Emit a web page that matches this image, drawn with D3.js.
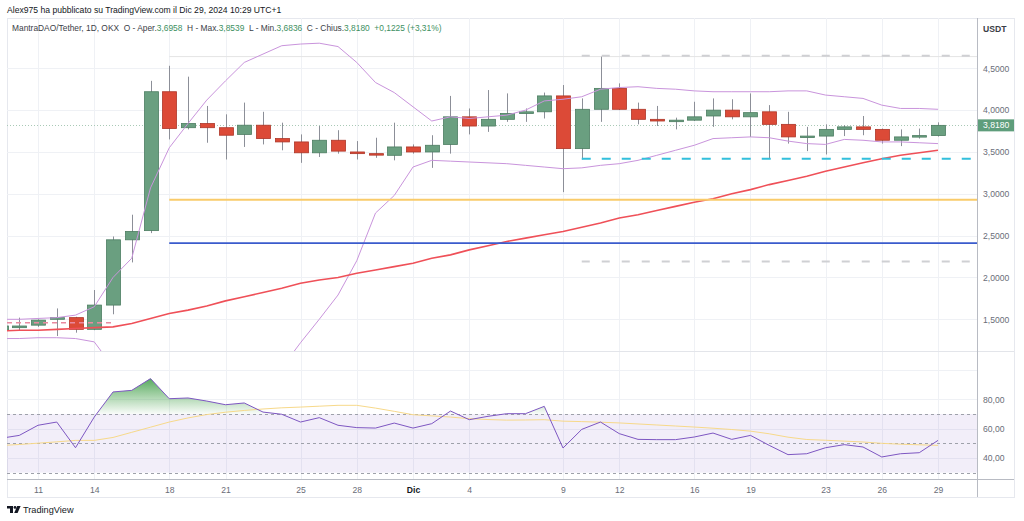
<!DOCTYPE html>
<html>
<head>
<meta charset="utf-8">
<script src="https://cdn.jsdelivr.net/npm/d3@7/dist/d3.min.js"></script>
<style>
  body { margin: 0; background: #fff; }
  svg { display: block; font-family: "Liberation Sans", Arial, sans-serif; }
</style>
</head>
<body>
<svg id="chart"></svg>
<script>
// daily candles, MantraDAO/Tether 1D (OKX)
const days = [
  "2024-11-09","2024-11-10","2024-11-11","2024-11-12","2024-11-13","2024-11-14","2024-11-15","2024-11-16",
  "2024-11-17","2024-11-18","2024-11-19","2024-11-20","2024-11-21","2024-11-22","2024-11-23","2024-11-24",
  "2024-11-25","2024-11-26","2024-11-27","2024-11-28","2024-11-29","2024-11-30",
  "2024-12-01","2024-12-02","2024-12-03","2024-12-04","2024-12-05","2024-12-06","2024-12-07","2024-12-08",
  "2024-12-09","2024-12-10","2024-12-11","2024-12-12","2024-12-13","2024-12-14","2024-12-15","2024-12-16",
  "2024-12-17","2024-12-18","2024-12-19","2024-12-20","2024-12-21","2024-12-22","2024-12-23","2024-12-24",
  "2024-12-25","2024-12-26","2024-12-27","2024-12-28","2024-12-29"
];
const open = [1.37,1.40,1.43,1.50,1.52,1.38,1.67,2.45,2.56,4.22,3.79,3.84,3.79,3.71,3.82,3.66,3.62,3.49,3.64,3.50,3.48,3.46,
  3.56,3.50,3.59,3.92,3.81,3.89,3.96,3.98,4.17,3.54,4.01,4.26,4.01,3.89,3.87,3.88,3.93,4.00,3.92,3.98,3.83,3.68,3.69,3.77,3.80,3.77,3.64,3.68,3.6958];
const high = [1.45,1.52,1.50,1.63,1.53,1.85,2.49,2.75,4.35,4.53,4.40,4.05,3.95,4.09,3.98,3.85,3.71,3.81,3.76,3.63,3.67,3.85,
  3.59,3.70,4.17,4.02,4.24,4.20,4.02,4.21,4.30,4.14,4.64,4.32,4.09,4.05,3.91,4.10,4.14,4.13,4.20,4.06,3.98,3.80,3.83,3.82,3.93,3.78,3.77,3.78,3.8539];
const low = [1.35,1.36,1.41,1.30,1.34,1.37,1.56,2.18,2.53,3.65,3.77,3.61,3.41,3.56,3.59,3.52,3.37,3.44,3.48,3.41,3.43,3.40,
  3.48,3.31,3.48,3.71,3.74,3.86,3.86,3.90,3.02,3.41,3.86,4.00,3.83,3.81,3.77,3.87,3.80,3.89,3.68,3.42,3.60,3.51,3.47,3.69,3.70,3.60,3.57,3.66,3.6836];
const close = [1.42,1.42,1.49,1.52,1.38,1.67,2.45,2.55,4.22,3.78,3.84,3.79,3.70,3.82,3.66,3.62,3.49,3.64,3.51,3.48,3.47,3.56,
  3.50,3.58,3.92,3.81,3.89,3.96,3.98,4.17,3.54,4.01,4.26,4.01,3.89,3.87,3.88,3.92,4.00,3.92,3.97,3.83,3.68,3.69,3.77,3.80,3.77,3.64,3.68,3.6955,3.818];

// bollinger bands (upper / lower) and the slow moving average
const upperBand = [1.50,1.50,1.51,1.52,1.55,1.65,2.00,2.23,3.07,3.55,3.84,4.12,4.35,4.57,4.67,4.77,4.79,4.80,4.76,4.57,4.33,4.21,
  4.04,3.87,3.92,3.90,3.92,3.94,4.00,4.11,4.13,4.16,4.25,4.27,4.28,4.26,4.25,4.23,4.22,4.22,4.22,4.22,4.23,4.23,4.18,4.16,4.14,4.06,4.02,4.02,4.01];
const lowerBand = [1.27,1.27,1.28,1.28,1.27,1.23,0.93,0.60,0.10,-0.10,-0.15,-0.10,0.00,0.20,0.50,0.92,1.22,1.50,1.79,2.20,2.77,2.98,
  3.32,3.40,3.39,3.38,3.37,3.36,3.34,3.32,3.30,3.31,3.34,3.36,3.40,3.46,3.52,3.58,3.66,3.67,3.68,3.67,3.63,3.60,3.59,3.65,3.64,3.62,3.62,3.61,3.60];
const slowMA = [1.36,1.37,1.37,1.38,1.39,1.40,1.41,1.45,1.51,1.57,1.61,1.66,1.72,1.77,1.82,1.87,1.93,1.97,2.00,2.05,2.09,2.13,
  2.17,2.23,2.27,2.33,2.38,2.43,2.47,2.51,2.55,2.60,2.65,2.71,2.75,2.80,2.85,2.90,2.94,3.00,3.05,3.11,3.16,3.21,3.27,3.32,3.37,3.42,3.46,3.49,3.52];

// RSI and its moving average
const rsi = [53.4,55.4,62.3,64.5,47.0,67.9,85.0,86.1,94.1,80.4,80.9,78.8,76.3,77.5,71.3,69.8,64.5,67.5,62.3,60.7,60.4,63.8,
  60.4,63.4,72.0,66.1,68.4,70.2,70.2,75.2,46.8,59.5,64.5,56.6,52.7,52.5,52.5,54.3,57.0,52.7,55.4,48.6,42.3,42.9,47.0,49.1,47.5,40.7,42.9,43.6,52.0];
const rsiMA = [48.5,49.2,50.1,51.0,52.0,52.0,54.0,57.5,61.0,64.5,67.3,69.6,71.2,72.4,73.4,74.2,74.7,75.3,75.9,75.9,74.0,71.8,
  69.5,68.7,67.9,66.8,66.2,65.8,65.9,66.1,65.1,64.8,64.4,63.9,63.2,62.5,61.8,61.1,60.3,59.4,58.3,56.5,54.2,52.6,52.1,51.5,50.9,50.0,49.4,49.0,48.6];

// axis ticks
const tickDays = ["2024-11-11","2024-11-14","2024-11-18","2024-11-21","2024-11-25","2024-11-28","2024-12-01",
  "2024-12-04","2024-12-09","2024-12-12","2024-12-16","2024-12-19","2024-12-23","2024-12-26","2024-12-29"];
const priceTicks = [1.5, 2.0, 2.5, 3.0, 3.5, 4.0, 4.5];
const rsiTicks = [80, 60, 40];
const rsiGrid = [100, 80, 60, 40];

// drawn levels: yellow / blue from Nov 18, dashed ones from Dec 10
const rangeTop = 4.64;
const yellowLevel = 2.93;
const blueLevel = 2.41;
const dashedGrey = [4.65, 2.19];
const dashedCyan = 3.42;
const dashedPink = 1.46;

const W = 1024, H = 521;
const left = 7, plotRight = 977, right = 1014;
const mainTop = 18, mainBottom = 351, rsiTop = 352, rsiBottom = 479, frameBottom = 497;

const parse = d3.utcParse('%Y-%m-%d');
const data = days.map((d, i) => ({
  date: parse(d), o: open[i], h: high[i], l: low[i], c: close[i],
  up: upperBand[i], lo: lowerBand[i], ma: slowMA[i], rsi: rsi[i], rsiMa: rsiMA[i]
}));

const it = d3.formatLocale({ decimal: ',', thousands: '.', grouping: [3], currency: ['', ''] });
const fmt4 = it.format('.4f');
const fmt2 = it.format('.2f');

const x = d3.scaleUtc().domain([parse('2024-11-11'), parse('2024-12-29')]).range([38, 938]);
const y = d3.scaleLinear().domain([1.5, 4.5]).range([319.3, 68.3]);
const yR = d3.scaleLinear().domain([40, 80]).range([458, 399.3]);

const svg = d3.select('#chart').attr('width', W).attr('height', H);
const defs = svg.append('defs');

defs.append('clipPath').attr('id', 'clip-main').append('rect')
  .attr('x', left).attr('y', mainTop).attr('width', plotRight - left).attr('height', mainBottom - mainTop);
defs.append('clipPath').attr('id', 'clip-rsi').append('rect')
  .attr('x', left).attr('y', rsiTop).attr('width', plotRight - left).attr('height', rsiBottom - rsiTop);
defs.append('clipPath').attr('id', 'clip-ob').append('rect')
  .attr('x', left).attr('y', rsiTop).attr('width', plotRight - left).attr('height', yR(70) - rsiTop);

const grad = defs.append('linearGradient').attr('id', 'ob-grad')
  .attr('gradientUnits', 'userSpaceOnUse')
  .attr('x1', 0).attr('x2', 0).attr('y1', yR(95)).attr('y2', yR(70));
grad.append('stop').attr('offset', 0).attr('stop-color', '#3f9e48').attr('stop-opacity', 0.9);
grad.append('stop').attr('offset', 1).attr('stop-color', '#43a047').attr('stop-opacity', 0.03);

// frame
svg.append('rect')
  .attr('x', left + 0.5).attr('y', mainTop + 0.5)
  .attr('width', right - left).attr('height', frameBottom - mainTop)
  .attr('fill', 'none').attr('stroke', '#e6e8ee');

// grid
const grid = svg.append('g').attr('stroke', '#eff1f5').attr('stroke-width', 1);
grid.selectAll('.vgrid').data(tickDays).join('line')
  .attr('x1', d => Math.round(x(parse(d))) + 0.5).attr('x2', d => Math.round(x(parse(d))) + 0.5)
  .attr('y1', mainTop).attr('y2', rsiBottom);
grid.selectAll('.pgrid').data(priceTicks).join('line')
  .attr('x1', left).attr('x2', plotRight)
  .attr('y1', d => Math.round(y(d)) + 0.5).attr('y2', d => Math.round(y(d)) + 0.5);
grid.selectAll('.rgrid').data(rsiGrid).join('line')
  .attr('x1', left).attr('x2', plotRight)
  .attr('y1', d => Math.round(yR(d)) + 0.5).attr('y2', d => Math.round(yR(d)) + 0.5);

// pane separator
svg.append('line')
  .attr('x1', left).attr('x2', right).attr('y1', mainBottom + 0.5).attr('y2', mainBottom + 0.5)
  .attr('stroke', '#e3e5ea');

// ---- main pane ----
const main = svg.append('g').attr('clip-path', 'url(#clip-main)');

// faint range box top
main.append('line')
  .attr('x1', x(parse('2024-11-18'))).attr('x2', plotRight)
  .attr('y1', y(rangeTop)).attr('y2', y(rangeTop))
  .attr('stroke', '#e4e4e4').attr('stroke-width', 1);

// last price dotted line
const last = data[data.length - 1], prev = data[data.length - 2];
main.append('line')
  .attr('x1', left).attr('x2', plotRight)
  .attr('y1', Math.round(y(last.c)) + 0.5).attr('y2', Math.round(y(last.c)) + 0.5)
  .attr('stroke', '#a9c9b6').attr('stroke-dasharray', '1,2');

// candles
const upFill = '#6a9f80', upStroke = '#4c7d61', dnFill = '#dc4a37', dnStroke = '#ad3628';
const candle = main.selectAll('.candle').data(data).join('g').attr('class', 'candle');
candle.append('line')
  .attr('x1', d => Math.round(x(d.date)) + 0.5).attr('x2', d => Math.round(x(d.date)) + 0.5)
  .attr('y1', d => y(d.h)).attr('y2', d => y(d.l))
  .attr('stroke', '#8c8f98').attr('stroke-width', 1);
candle.append('rect')
  .attr('x', d => Math.round(x(d.date)) - 6.5)
  .attr('width', 14)
  .attr('y', d => y(Math.max(d.o, d.c)))
  .attr('height', d => Math.max(1.5, Math.abs(y(d.o) - y(d.c))))
  .attr('fill', d => d.c >= d.o ? upFill : dnFill)
  .attr('stroke', d => d.c >= d.o ? upStroke : dnStroke)
  .attr('stroke-width', 0.8);

// bollinger bands
const bandColor = '#c994dc';
main.append('path').datum(data)
  .attr('fill', 'none').attr('stroke', bandColor).attr('stroke-width', 1)
  .attr('d', d3.line().x(d => x(d.date)).y(d => y(d.up)));
main.append('path').datum(data)
  .attr('fill', 'none').attr('stroke', bandColor).attr('stroke-width', 1)
  .attr('d', d3.line().x(d => x(d.date)).y(d => y(d.lo)));

// slow MA
main.append('path').datum(data)
  .attr('fill', 'none').attr('stroke', '#ef5058').attr('stroke-width', 1.6)
  .attr('d', d3.line().x(d => x(d.date)).y(d => y(d.ma)));

// drawn horizontal levels
main.append('line')
  .attr('x1', x(parse('2024-11-18'))).attr('x2', plotRight)
  .attr('y1', y(yellowLevel)).attr('y2', y(yellowLevel))
  .attr('stroke', '#f9cb6a').attr('stroke-width', 2);
main.append('line')
  .attr('x1', x(parse('2024-11-18'))).attr('x2', plotRight)
  .attr('y1', y(blueLevel)).attr('y2', y(blueLevel))
  .attr('stroke', '#3a5bcc').attr('stroke-width', 1.6);
main.selectAll('.grey-dash').data(dashedGrey).join('line')
  .attr('x1', x(parse('2024-12-10'))).attr('x2', plotRight - 6)
  .attr('y1', d => y(d)).attr('y2', d => y(d))
  .attr('stroke', '#cfd0d3').attr('stroke-width', 2).attr('stroke-dasharray', '8,12');
main.append('line')
  .attr('x1', x(parse('2024-12-10'))).attr('x2', plotRight - 6)
  .attr('y1', y(dashedCyan)).attr('y2', y(dashedCyan))
  .attr('stroke', '#32bfdc').attr('stroke-width', 2).attr('stroke-dasharray', '9,11');
main.append('line')
  .attr('x1', left).attr('x2', x(parse('2024-11-15')))
  .attr('y1', y(dashedPink)).attr('y2', y(dashedPink))
  .attr('stroke', '#e98aa0').attr('stroke-width', 1.5).attr('stroke-dasharray', '5,4');

// ---- RSI pane ----
const rp = svg.append('g').attr('clip-path', 'url(#clip-rsi)');
rp.append('rect')
  .attr('x', left).attr('width', plotRight - left)
  .attr('y', yR(70)).attr('height', yR(30) - yR(70))
  .attr('fill', '#7e57c2').attr('fill-opacity', 0.1);
rp.selectAll('.rsi-level').data([70, 50, 30]).join('line')
  .attr('x1', left).attr('x2', plotRight)
  .attr('y1', d => Math.round(yR(d)) + 0.5).attr('y2', d => Math.round(yR(d)) + 0.5)
  .attr('stroke', '#9ea1aa').attr('stroke-dasharray', '3,3');

rp.append('g').attr('clip-path', 'url(#clip-ob)')
  .append('path').datum(data)
  .attr('fill', 'url(#ob-grad)')
  .attr('d', d3.area().x(d => x(d.date)).y0(yR(70)).y1(d => yR(d.rsi)));

rp.append('path').datum(data)
  .attr('fill', 'none').attr('stroke', '#f7d98a').attr('stroke-width', 1)
  .attr('d', d3.line().x(d => x(d.date)).y(d => yR(d.rsiMa)));
rp.append('path').datum(data)
  .attr('fill', 'none').attr('stroke', '#7e57c2').attr('stroke-width', 1)
  .attr('d', d3.line().x(d => x(d.date)).y(d => yR(d.rsi)));

// ---- axes ----
svg.append('line')
  .attr('x1', plotRight + 0.5).attr('x2', plotRight + 0.5).attr('y1', mainTop).attr('y2', frameBottom)
  .attr('stroke', '#b8bbc3');
svg.append('line')
  .attr('x1', left).attr('x2', right).attr('y1', rsiBottom + 0.5).attr('y2', rsiBottom + 0.5)
  .attr('stroke', '#b8bbc3');

const yAxis = svg.append('g')
  .attr('transform', `translate(${plotRight},0)`)
  .call(d3.axisRight(y).tickValues(priceTicks).tickSize(0).tickPadding(6).tickFormat(fmt4));
const rAxis = svg.append('g')
  .attr('transform', `translate(${plotRight},0)`)
  .call(d3.axisRight(yR).tickValues(rsiTicks).tickSize(0).tickPadding(6).tickFormat(fmt2));
const xAxis = svg.append('g')
  .attr('transform', `translate(0,${rsiBottom})`)
  .call(d3.axisBottom(x).tickValues(tickDays.map(parse)).tickSize(0).tickPadding(8)
    .tickFormat(d => d.getUTCDate() === 1 ? 'Dic' : d.getUTCDate()));

[yAxis, rAxis, xAxis].forEach(g => {
  g.select('.domain').remove();
  g.selectAll('text').attr('font-family', '"Liberation Sans", Arial, sans-serif')
    .attr('font-size', 8.6).attr('fill', '#6a6d78');
});
xAxis.selectAll('text').filter(d => d.getUTCDate() === 1)
  .attr('fill', '#131722').attr('font-weight', 600);

svg.append('text')
  .attr('x', plotRight + 6).attr('y', 32)
  .attr('font-size', 8.6).attr('font-weight', 600).attr('fill', '#3b3e47')
  .text('USDT');

// last price tag
svg.append('rect')
  .attr('x', plotRight + 1).attr('y', y(last.c) - 6)
  .attr('width', right - plotRight - 1).attr('height', 12)
  .attr('fill', '#5e9d7b');
svg.append('text')
  .attr('x', plotRight + 6).attr('y', y(last.c)).attr('dy', '0.34em')
  .attr('font-size', 8.6).attr('fill', '#fff')
  .text(fmt4(last.c));

// header (drawn over the grid)
svg.append('text')
  .attr('x', left).attr('y', 13)
  .attr('font-size', 8.6).attr('font-weight', 500).attr('fill', '#131722')
  .text('Alex975 ha pubblicato su TradingView.com il Dic 29, 2024 10:29 UTC+1');

const chg = last.c - prev.c;
const legendParts = [
  ['MantraDAO/Tether, 1D, OKX\u00a0\u00a0O - Aper.', '#3b3e47'], [fmt4(last.o), '#3d9061'],
  ['\u00a0\u00a0H - Max.', '#3b3e47'], [fmt4(last.h), '#3d9061'],
  ['\u00a0\u00a0L - Min.', '#3b3e47'], [fmt4(last.l), '#3d9061'],
  ['\u00a0\u00a0C - Chius.', '#3b3e47'], [fmt4(last.c), '#3d9061'],
  ['\u00a0\u00a0+' + fmt4(chg) + ' (+' + fmt2(chg / prev.c * 100) + '%)', '#3d9061']
];
svg.append('text')
  .attr('x', 12).attr('y', 31).attr('font-size', 8.4)
  .selectAll('tspan').data(legendParts).join('tspan')
  .attr('fill', d => d[1]).text(d => d[0]);

// TradingView logo
const logo = svg.append('g').attr('transform', 'translate(7,506)').attr('fill', '#131722');
logo.append('path').attr('d', 'M0,0 H6 V7 H3 V2.6 H0 Z');
logo.append('circle').attr('cx', 8).attr('cy', 1.4).attr('r', 1.4);
logo.append('path').attr('d', 'M10.2,0 H13.6 L10.6,7 H7.2 Z');
svg.append('text')
  .attr('x', 23).attr('y', 513)
  .attr('font-size', 9.2).attr('fill', '#131722')
  .text('TradingView');
</script>
</body>
</html>
